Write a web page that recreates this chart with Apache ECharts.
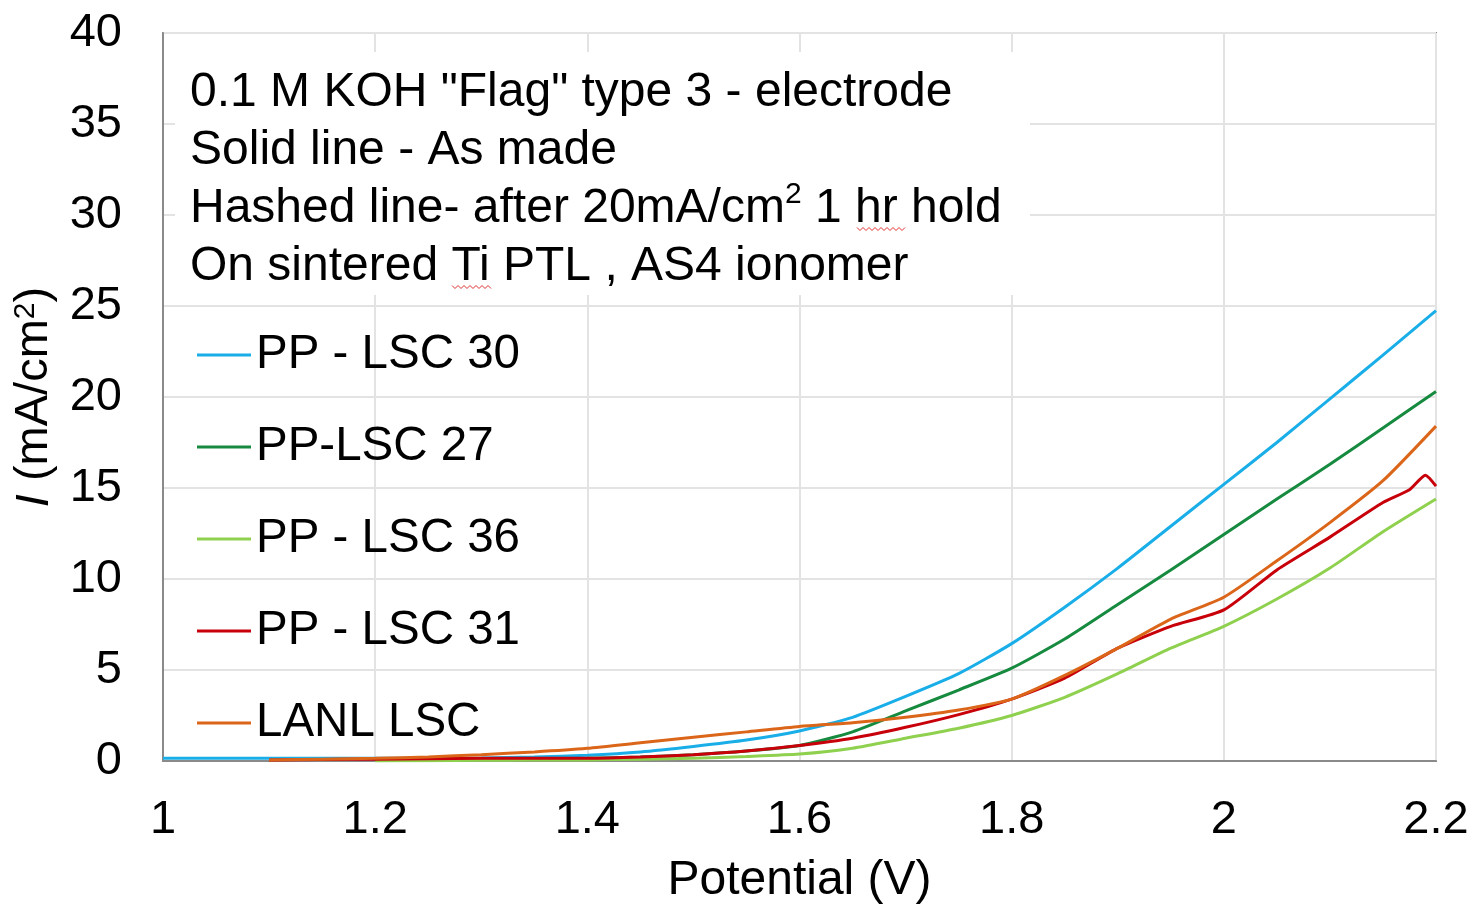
<!DOCTYPE html>
<html>
<head>
<meta charset="utf-8">
<script src="https://cdn.jsdelivr.net/npm/echarts@6/dist/echarts.min.js"></script>
<style>
html,body{margin:0;padding:0;background:#fff;}
#chart{width:1472px;height:910px;}
</style>
</head>
<body>
<div id="chart"></div>
<script>
// ---- data ----
const potential = [1.0,1.05,1.1,1.15,1.2,1.25,1.3,1.35,1.4,1.45,1.5,1.55,1.6,1.65,1.7,1.75,1.8,1.85,1.9,1.95,2.0,2.05,2.1,2.15,2.2];
const lsc30 = [0.15,0.15,0.15,0.15,0.15,0.15,0.17,0.22,0.32,0.5,0.8,1.15,1.65,2.4,3.55,4.8,6.45,8.45,10.6,12.9,15.2,17.5,19.9,22.3,24.75];
const lsc27 = [null,null,null,null,0.05,0.05,0.08,0.1,0.15,0.22,0.35,0.55,0.85,1.6,2.75,3.9,5.1,6.7,8.6,10.5,12.45,14.4,16.3,18.3,20.3];
const lsc36 = [null,null,null,null,0.0,0.02,0.04,0.05,0.06,0.1,0.15,0.25,0.38,0.7,1.25,1.8,2.5,3.5,4.8,6.2,7.4,8.9,10.6,12.6,14.4];
const lsc31V = [1.1,1.15,1.2,1.25,1.3,1.35,1.4,1.45,1.5,1.55,1.6,1.65,1.7,1.75,1.8,1.85,1.9,1.95,2.0,2.05,2.1,2.15,2.175,2.19,2.2];
const lsc31 = [0.05,0.08,0.1,0.12,0.15,0.15,0.15,0.22,0.35,0.55,0.85,1.25,1.85,2.55,3.4,4.55,6.2,7.4,8.3,10.5,12.3,14.2,14.9,15.7,15.1];
const lanl = [null,null,0.05,0.1,0.15,0.22,0.35,0.5,0.7,1.0,1.3,1.6,1.9,2.1,2.4,2.8,3.4,4.7,6.2,7.8,9.0,11.0,13.1,15.4,18.4];
const seriesNames = ['PP - LSC 30','PP-LSC 27','PP - LSC 36','PP - LSC 31','LANL LSC'];
const seriesColors = ['#1AAEE8','#168A3F','#8FD14F','#C8000A','#DB661A'];
const noteText = '0.1 M KOH "Flag" type 3 - electrode\nSolid line - As made\nHashed line- after 20mA/cm{sup|2} 1 hr hold\nOn sintered Ti PTL , AS4 ionomer';

function pairs(xs, ys){ const out=[]; for(let i=0;i<xs.length;i++){ if(ys[i]!==null) out.push([xs[i], ys[i]]); } return out; }
const seriesData = [pairs(potential,lsc30), pairs(potential,lsc27), pairs(potential,lsc36), pairs(lsc31V,lsc31), pairs(potential,lanl)];

function squiggle(x0, x1, y){ const pts=[]; let up=true; for(let x=x0; x<=x1; x+=3){ pts.push([x, up ? y-1.5 : y+1.5]); up=!up; } return pts; }

const FONT = "'Liberation Sans', Arial, sans-serif";
const chart = echarts.init(document.getElementById('chart'));
chart.setOption({
  animation: false,
  backgroundColor: '#fff',
  grid: { left: 163, right: 36, top: 33, bottom: 145, show: true, borderColor: '#8a8a8a', borderWidth: 2, containLabel: false },
  xAxis: {
    type: 'value', min: 1, max: 2.2, interval: 0.2,
    name: 'Potential (V)', nameLocation: 'middle', nameGap: 96,
    nameTextStyle: { fontSize: 48, color: '#000', fontFamily: FONT },
    axisLine: { show: true, lineStyle: { color: '#8a8a8a', width: 2 } },
    axisTick: { show: false },
    axisLabel: { fontSize: 47, color: '#000', fontFamily: FONT, margin: 36, formatter: v => String(+v.toFixed(1)) },
    splitLine: { show: true, lineStyle: { color: '#e3e3e3', width: 2 } }
  },
  yAxis: {
    type: 'value', min: 0, max: 40, interval: 5,
    name: '{i|I} (mA/cm{sup|2})', nameLocation: 'middle', nameGap: 105,
    nameTextStyle: { fontSize: 47, color: '#000', fontFamily: FONT, rich: {
      i: { fontSize: 47, lineHeight: 47, fontStyle: 'italic', fontFamily: FONT, color: '#000' },
      sup: { fontSize: 30, lineHeight: 30, verticalAlign: 'top', fontFamily: FONT, color: '#000' } } },
    axisLine: { show: true, lineStyle: { color: '#8a8a8a', width: 2 } },
    axisTick: { show: false },
    axisLabel: { fontSize: 47, color: '#000', fontFamily: FONT, margin: 41 },
    splitLine: { show: true, lineStyle: { color: '#e3e3e3', width: 2 } }
  },
  legend: {
    orient: 'vertical', left: 197, top: 331, padding: 0, itemWidth: 54, itemHeight: 3, itemGap: 44,
    icon: 'rect',
    textStyle: { fontSize: 47.5, color: '#000', fontFamily: FONT },
    data: seriesNames
  },
  graphic: [
    { type: 'rect', z: 100, zlevel: 1, shape: { x: 175, y: 52, width: 855, height: 243 }, style: { fill: '#fff' } },
    { type: 'text', z: 101, zlevel: 1, x: 190, y: 64, style: { text: noteText, fontSize: 48, lineHeight: 58, fill: '#000', fontFamily: FONT,
      rich: { sup: { fontSize: 30, lineHeight: 36, verticalAlign: 'top', fill: '#000', fontFamily: FONT } } } },
    { type: 'polyline', z: 102, zlevel: 1, shape: { points: squiggle(857, 905, 229) }, style: { stroke: '#e03030', lineWidth: 1, fill: null } },
    { type: 'polyline', z: 102, zlevel: 1, shape: { points: squiggle(452, 492, 287) }, style: { stroke: '#e03030', lineWidth: 1, fill: null } }
  ],
  series: seriesNames.map((n, i) => ({
    name: n, type: 'line', data: seriesData[i], showSymbol: false, smooth: 0.2,
    lineStyle: { width: 3, color: seriesColors[i] }, itemStyle: { color: seriesColors[i] }
  }))
});
</script>
</body>
</html>
